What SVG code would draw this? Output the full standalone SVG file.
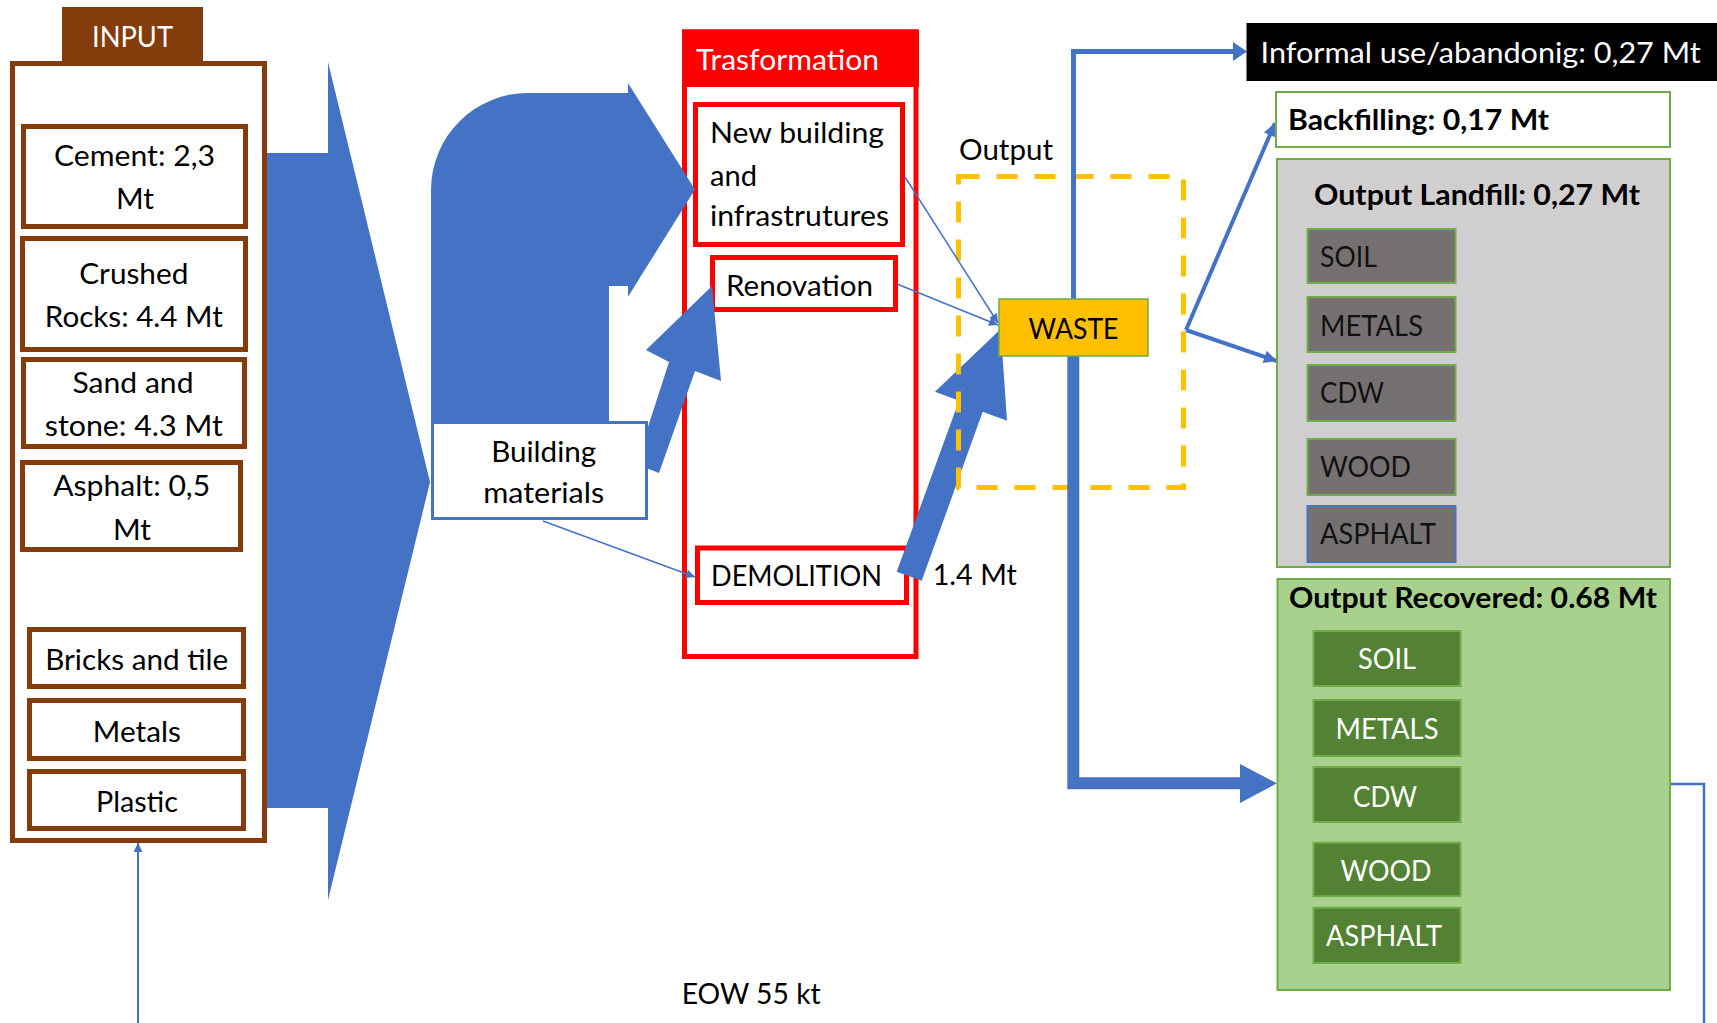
<svg xmlns="http://www.w3.org/2000/svg" width="1717" height="1023" viewBox="0 0 1717 1023">
<defs>
<style>
.t{font-family:Lato,"Open Sans","Liberation Sans",sans-serif;font-size:29px;fill:#000}
.b{font-weight:bold}
.w{fill:#fff}
.d{fill:#111}
.m{text-anchor:middle}
.br{fill:#fff;stroke:#843C0C;stroke-width:5}
.rd{fill:#fff;stroke:#FF0000;stroke-width:5}
.lf{fill:#767171;stroke:#70AD47;stroke-width:2}
.rc{fill:#548235;stroke:#70AD47;stroke-width:2}
.blue{fill:#4472C4}
.ln{fill:none;stroke:#4472C4}
</style>
<marker id="ahs" viewBox="0 0 10 10" refX="10" refY="5" markerWidth="11" markerHeight="9" markerUnits="userSpaceOnUse" orient="auto"><path d="M0,0 L10,5 L0,10 z" fill="#4472C4"/></marker>
<marker id="ahm" viewBox="0 0 10 10" refX="10" refY="5" markerWidth="17" markerHeight="13" markerUnits="userSpaceOnUse" orient="auto"><path d="M0,0 L10,5 L0,10 z" fill="#4472C4"/></marker>
</defs>
<rect width="1717" height="1023" fill="#fff"/>

<!-- input chevron -->
<g id="input-chevron">
<polygon class="blue" points="267,153 328,153 328,62 430,482 328,900 328,808 267,808"/>
</g>

<!-- INPUT group -->
<g id="input">
<rect class="br" x="12.5" y="63.5" width="252" height="777"/>
<rect x="62" y="7" width="141" height="54" fill="#843C0C"/>
<text class="t w m" x="132.5" y="46.5" textLength="81" lengthAdjust="spacingAndGlyphs">INPUT</text>
</g>
<g id="cement">
<rect class="br" x="23.5" y="126.5" width="222" height="100"/>
<text class="t m" x="134.5" y="166" textLength="161" lengthAdjust="spacingAndGlyphs">Cement: 2,3</text>
<text class="t m" x="135" y="209" textLength="38" lengthAdjust="spacingAndGlyphs">Mt</text>
</g>
<g id="crushed">
<rect class="br" x="22.5" y="238.5" width="223" height="111"/>
<text class="t m" x="133.8" y="284" textLength="109" lengthAdjust="spacingAndGlyphs">Crushed</text>
<text class="t m" x="133.8" y="327" textLength="178" lengthAdjust="spacingAndGlyphs">Rocks: 4.4 Mt</text>
</g>
<g id="sand">
<rect class="br" x="23.5" y="359.5" width="221" height="87"/>
<text class="t m" x="133" y="393" textLength="121" lengthAdjust="spacingAndGlyphs">Sand and</text>
<text class="t m" x="133.8" y="436" textLength="178" lengthAdjust="spacingAndGlyphs">stone: 4.3 Mt</text>
</g>
<g id="asphalt-in">
<rect class="br" x="22.5" y="462.5" width="218" height="87"/>
<text class="t m" x="131.7" y="496" textLength="157" lengthAdjust="spacingAndGlyphs">Asphalt: 0,5</text>
<text class="t m" x="132" y="540" textLength="38" lengthAdjust="spacingAndGlyphs">Mt</text>
</g>
<g id="bricks">
<rect class="br" x="29.5" y="629.5" width="214" height="57"/>
<text class="t m" x="136.7" y="670" textLength="183" lengthAdjust="spacingAndGlyphs">Bricks and tile</text>
</g>
<g id="metals-in">
<rect class="br" x="29.5" y="700.5" width="214" height="58"/>
<text class="t m" x="136.8" y="742" textLength="88" lengthAdjust="spacingAndGlyphs">Metals</text>
</g>
<g id="plastic">
<rect class="br" x="29.5" y="771.5" width="214" height="57"/>
<text class="t m" x="137" y="812" textLength="82" lengthAdjust="spacingAndGlyphs">Plastic</text>
</g>

<!-- Trasformation -->
<g id="trasformation">
<rect x="684.5" y="32" width="231.5" height="624.5" fill="#fff" stroke="#FF0000" stroke-width="5"/>
<rect x="682" y="29.5" width="237" height="57.5" fill="#FF0000"/>
<text class="t w" x="696" y="70" textLength="183" lengthAdjust="spacingAndGlyphs">Trasformation</text>
</g>
<g id="new-building">
<rect class="rd" x="695.5" y="104.5" width="207" height="140"/>
<text class="t" x="710" y="143" textLength="174" lengthAdjust="spacingAndGlyphs">New building</text>
<text class="t" x="710" y="186" textLength="47" lengthAdjust="spacingAndGlyphs">and</text>
<text class="t" x="710" y="226" textLength="179" lengthAdjust="spacingAndGlyphs">infrastrutures</text>
</g>
<g id="renovation">
<rect class="rd" x="712.5" y="257.5" width="183" height="52"/>
<text class="t" x="726" y="296" textLength="147" lengthAdjust="spacingAndGlyphs">Renovation</text>
</g>
<g id="demolition">
<rect class="rd" x="697.5" y="548" width="209" height="54.5"/>
<text class="t" x="711" y="586" textLength="171" lengthAdjust="spacingAndGlyphs">DEMOLITION</text>
</g>

<!-- block arrows -->
<g id="block-arrows">
<path class="blue" d="M431,421 L431,190 A97,97 0 0 1 528,93 L628,93 L628,83 L695,189.5 L628,296.7 L628,286 L609,286 L609,421 Z"/>
<polygon class="blue" points="636,464 659,473 695,371 721,381 712,286 646,350 669,362"/>
<polygon class="blue" points="896.7,571.7 921.7,580.7 982.7,411.7 1007,420.7 1000.7,329 935,391.7 959,400.7"/>
</g>

<!-- Building materials -->
<g id="building-materials">
<rect x="432.5" y="422.5" width="214" height="96" fill="#fff" stroke="#4472C4" stroke-width="3"/>
<text class="t m" x="543.7" y="462" textLength="105" lengthAdjust="spacingAndGlyphs">Building</text>
<text class="t m" x="543.7" y="503" textLength="121" lengthAdjust="spacingAndGlyphs">materials</text>
</g>

<!-- Output / waste -->
<g id="output">
<rect x="958.5" y="176.5" width="225" height="311" fill="none" stroke="#FFC000" stroke-width="5" stroke-dasharray="21 17"/>
<text class="t" x="959" y="160" textLength="94" lengthAdjust="spacingAndGlyphs">Output</text>
</g>

<!-- connectors -->
<g id="connectors">
<line class="ln" x1="905" y1="177" x2="998" y2="323" stroke-width="1.5" marker-end="url(#ahs)"/>
<line class="ln" x1="897" y1="284" x2="998" y2="325" stroke-width="1.5" marker-end="url(#ahs)"/>
<line class="ln" x1="543" y1="521" x2="695" y2="577" stroke-width="1.5" marker-end="url(#ahs)"/>
<line class="ln" x1="138" y1="1023" x2="138" y2="843" stroke-width="2" marker-end="url(#ahs)"/>
<polyline class="ln" points="1073.5,299 1073.5,51.5 1236,51.5" stroke-width="5"/>
<polygon class="blue" points="1233,42 1247,51.5 1233,61"/>
<polyline class="ln" points="1073.3,356 1073.3,783.3 1241,783.3" stroke-width="12"/>
<polygon class="blue" points="1240,764 1277,783.3 1240,803"/>
<path class="ln" d="M1186,330 L1275,123" stroke-width="4" marker-end="url(#ahm)"/>
<path class="ln" d="M1186,330 L1277,361" stroke-width="4" marker-end="url(#ahm)"/>
<polyline class="ln" points="1671,784 1704,784 1704,1023" stroke-width="2.5"/>
</g>

<g id="waste">
<rect x="999" y="299" width="149" height="57" fill="#FFC000" stroke="#70AD47" stroke-width="1.5"/>
<text class="t m" x="1073.5" y="339" textLength="90" lengthAdjust="spacingAndGlyphs">WASTE</text>
</g>
<g id="label-14">
<text class="t" x="932.7" y="585" textLength="84" lengthAdjust="spacingAndGlyphs">1.4 Mt</text>
</g>
<g id="label-eow">
<text class="t" x="681.7" y="1004" textLength="139" lengthAdjust="spacingAndGlyphs">EOW 55 kt</text>
</g>

<!-- right side -->
<g id="informal">
<rect x="1246.5" y="23" width="471" height="58" fill="#000"/>
<text class="t w" x="1260.6" y="63" textLength="440" lengthAdjust="spacingAndGlyphs">Informal use/abandonig: 0,27 Mt</text>
</g>
<g id="backfilling">
<rect x="1276" y="92" width="394" height="55" fill="#fff" stroke="#70AD47" stroke-width="2"/>
<text class="t b" x="1288" y="130" textLength="261" lengthAdjust="spacingAndGlyphs">Backfilling: 0,17 Mt</text>
</g>
<g id="landfill">
<rect x="1277" y="159" width="393" height="408" fill="#D0CECE" stroke="#70AD47" stroke-width="2"/>
<text class="t b" x="1314" y="205" textLength="326" lengthAdjust="spacingAndGlyphs">Output Landfill: 0,27 Mt</text>
<g id="lf-soil"><rect class="lf" x="1307.5" y="229" width="148" height="54"/><text class="t d" x="1320" y="267" textLength="57" lengthAdjust="spacingAndGlyphs">SOIL</text></g>
<g id="lf-metals"><rect class="lf" x="1307.5" y="297" width="148" height="55"/><text class="t d" x="1320" y="336" textLength="103" lengthAdjust="spacingAndGlyphs">METALS</text></g>
<g id="lf-cdw"><rect class="lf" x="1307.5" y="365" width="148" height="56"/><text class="t d" x="1320" y="402.7" textLength="64" lengthAdjust="spacingAndGlyphs">CDW</text></g>
<g id="lf-wood"><rect class="lf" x="1307.5" y="439" width="148" height="56"/><text class="t d" x="1320" y="476.7" textLength="91" lengthAdjust="spacingAndGlyphs">WOOD</text></g>
<g id="lf-asphalt"><rect x="1307.5" y="506" width="148" height="56" fill="#767171" stroke="#4472C4" stroke-width="2"/><text class="t d" x="1320" y="544" textLength="116" lengthAdjust="spacingAndGlyphs">ASPHALT</text></g>
</g>
<g id="recovered">
<rect x="1277.5" y="579" width="392.5" height="411" fill="#A9D18E" stroke="#70AD47" stroke-width="2"/>
<text class="t b" x="1289" y="608" textLength="368" lengthAdjust="spacingAndGlyphs">Output Recovered: 0.68 Mt</text>
<g id="rc-soil"><rect class="rc" x="1313.5" y="631" width="147" height="55"/><text class="t w m" x="1387" y="669" textLength="58" lengthAdjust="spacingAndGlyphs">SOIL</text></g>
<g id="rc-metals"><rect class="rc" x="1313.5" y="700" width="147" height="56"/><text class="t w m" x="1387" y="739" textLength="103" lengthAdjust="spacingAndGlyphs">METALS</text></g>
<g id="rc-cdw"><rect class="rc" x="1313.5" y="767" width="147" height="55"/><text class="t w m" x="1385" y="806.7" textLength="64" lengthAdjust="spacingAndGlyphs">CDW</text></g>
<g id="rc-wood"><rect class="rc" x="1313.5" y="842.7" width="147" height="53.5"/><text class="t w m" x="1386" y="880.7" textLength="91" lengthAdjust="spacingAndGlyphs">WOOD</text></g>
<g id="rc-asphalt"><rect class="rc" x="1313.5" y="907.7" width="147" height="55.3"/><text class="t w m" x="1384" y="946" textLength="116" lengthAdjust="spacingAndGlyphs">ASPHALT</text></g>
</g>
</svg>
